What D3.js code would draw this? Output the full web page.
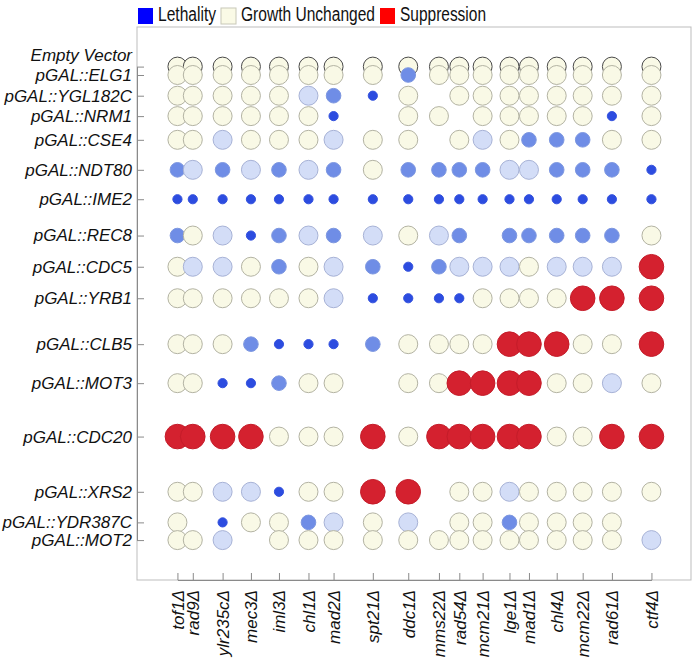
<!DOCTYPE html>
<html>
<head>
<meta charset="utf-8">
<script src="https://cdn.jsdelivr.net/npm/d3@7"></script>
<style>
  body { margin: 0; background: #fff; }
  svg { display: block; font-family: 'Liberation Sans', Arial, sans-serif; }
</style>
</head>
<body>
<svg></svg>
<script>
const width = 692
const height = 662

// deletion strains (columns)
const strains = ['tof1Δ', 'rad9Δ', 'ylr235cΔ', 'mec3Δ', 'iml3Δ', 'chl1Δ', 'mad2Δ', 'spt21Δ', 'ddc1Δ',
  'mms22Δ', 'rad54Δ', 'mcm21Δ', 'lge1Δ', 'mad1Δ', 'chl4Δ', 'mcm22Δ', 'rad61Δ', 'ctf4Δ']

// overexpression constructs (rows)
const constructs = ['Empty Vector', 'pGAL::ELG1', 'pGAL::YGL182C', 'pGAL::NRM1', 'pGAL::CSE4', 'pGAL::NDT80',
  'pGAL::IME2', 'pGAL::REC8', 'pGAL::CDC5', 'pGAL::YRB1', 'pGAL::CLB5', 'pGAL::MOT3', 'pGAL::CDC20',
  'pGAL::XRS2', 'pGAL::YDR387C', 'pGAL::MOT2']

// N = growth unchanged, P/M/D = lethality (weak..strong), R = suppression, - = not tested
const effects = [
  'NNNNNNNNNNNNNNNNNN',
  'NNNNNNNNMNNNNNNNNN',
  'NNNNNPMDN-NNNNNNNN',
  'NNNNNND-NN-NNNNNDN',
  'NNPNNNPNN-NPNMMMNN',
  'MPMPMPMNMMMMPPMMMD',
  'DDDDDDDDDDDDDDDDDD',
  'MNPDMPMPNPM-MMMMMN',
  'NPPNMNPMDMPPPNPPPR',
  'NNNNNNPDDDDNNNNRRR',
  'NNNMDDDMNNNNRRRNNR',
  'NNDDMNN-NNRRRRNNPN',
  'RRRRNNNRNRRRRRNNRR',
  'NNPPDNNRR-NNPNNNNN',
  'N-DNNMPNP-NNMNNNN-',
  'NNP-NNNNNNNNNNNNNP'
]

const legendItems = ['Lethality', 'Growth Unchanged', 'Suppression']

// layout: irregular spacing of the original figure, in grid units
const colSlots = [0, 0.52, 1.53, 2.49, 3.44, 4.44, 5.29, 6.62, 7.82, 8.86, 9.55, 10.34, 11.25, 11.91, 12.85, 13.73, 14.72, 16.06]
const rowSlots = [0, 0.28, 0.97, 1.65, 2.44, 3.44, 4.42, 5.63, 6.67, 7.72, 9.25, 10.55, 12.33, 14.17, 15.19, 15.78]

const margin = { left: 137, top: 27, right: 1, bottom: 82 }

const svg = d3.select('svg').attr('width', width).attr('height', height)

const xUnit = d3.scaleLinear().domain([-1.37, 17.4]).range([margin.left, width - margin.right])
const yUnit = d3.scaleLinear().domain([-1.32, 17.11]).range([margin.top, height - margin.bottom])

const x = d3.scaleOrdinal().domain(strains).range(colSlots.map(xUnit))
const y = d3.scaleOrdinal().domain(constructs).range(rowSlots.map(yUnit))

const fill = d3.scaleOrdinal()
  .domain(['N', 'P', 'M', 'D', 'R'])
  .range(['#f9f9e6', '#d3ddf7', '#6f8de6', '#2c4ce0', '#d4212f'])
const stroke = d3.scaleOrdinal()
  .domain(['N', 'P', 'M', 'D', 'R'])
  .range(['#b3b3a3', '#a7b2d6', '#7d97e0', '#3553de', '#c41c29'])
const radius = d3.scaleOrdinal()
  .domain(['N', 'P', 'M', 'D', 'R'])
  .range([9.5, 9.5, 7.3, 4.6, 12.3])

// frame
svg.append('rect')
  .attr('x', margin.left)
  .attr('y', margin.top)
  .attr('width', width - margin.right - margin.left)
  .attr('height', height - margin.bottom - margin.top)
  .attr('fill', 'none')
  .attr('stroke', '#bdbdbd')

// cells
const cells = []
constructs.forEach((c, i) => {
  strains.forEach((s, j) => {
    const code = effects[i][j]
    if (code !== '-') cells.push({ construct: c, strain: s, code })
  })
})

svg.append('g')
  .selectAll('circle')
  .data(cells)
  .join('circle')
  .attr('cx', (d) => x(d.strain))
  .attr('cy', (d) => y(d.construct))
  .attr('r', (d) => radius(d.code))
  .attr('fill', (d) => fill(d.code))
  .attr('stroke', (d) => (d.construct === 'Empty Vector' ? '#4a4a4a' : stroke(d.code)))
  .attr('stroke-width', 1)

// axes
const yAxis = svg.append('g')
  .attr('transform', `translate(${margin.left},0)`)
  .call(d3.axisLeft(y).tickSizeInner(-7).tickSizeOuter(0).tickPadding(5))
yAxis.select('.domain').attr('stroke', '#8a8a8a')
yAxis.selectAll('.tick line').attr('stroke', '#8a8a8a')
yAxis.selectAll('.tick text')
  .attr('font-size', 17)
  .attr('font-style', 'italic')
  .attr('fill', '#111')
  .attr('dy', (d) => (d === 'Empty Vector' ? '-0.35em' : '0.32em'))

const xAxis = svg.append('g')
  .attr('transform', `translate(0,${height - margin.bottom})`)
  .call(d3.axisBottom(x).tickSizeInner(-7).tickSizeOuter(0))
xAxis.select('.domain').attr('stroke', '#8a8a8a')
xAxis.selectAll('.tick line').attr('stroke', '#8a8a8a')
xAxis.selectAll('.tick text')
  .attr('font-size', 17)
  .attr('font-style', 'italic')
  .attr('fill', '#111')
  .attr('text-anchor', 'end')
  .attr('x', 0)
  .attr('y', 0)
  .attr('dy', '0.35em')
  .attr('transform', 'translate(0,10) rotate(-90)')

// legend
const legendColors = ['#0000ff', '#fafae6', '#ff0000']
const legendStarts = [138, 221, 380]
const legendWidths = [58, 134, 86]
const legend = svg.append('g')
legendItems.forEach((label, i) => {
  legend.append('rect')
    .attr('x', legendStarts[i])
    .attr('y', 8)
    .attr('width', 15)
    .attr('height', 16)
    .attr('fill', legendColors[i])
    .attr('stroke', i === 1 ? '#c8c8b8' : 'none')
  legend.append('text')
    .attr('x', legendStarts[i] + 20)
    .attr('y', 21)
    .attr('font-size', 19.5)
    .attr('fill', '#111')
    .attr('textLength', legendWidths[i])
    .attr('lengthAdjust', 'spacingAndGlyphs')
    .text(label)
})
</script>
</body>
</html>
